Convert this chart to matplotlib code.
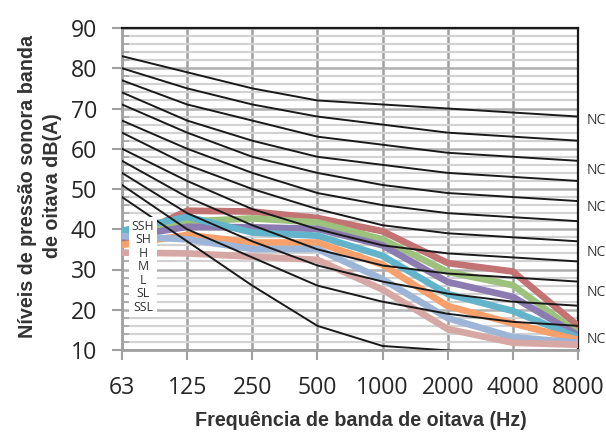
import numpy as np
import matplotlib
matplotlib.use("Agg")
import matplotlib.pyplot as plt
from matplotlib.ticker import MultipleLocator

# ---------------- data ----------------
freqs = ["63", "125", "250", "500", "1000", "2000", "4000", "8000"]

series_names = ["SSH", "SH", "H", "M", "L", "SL", "SSL"]
ssh = [37.0, 44.6, 44.4, 42.8, 39.5, 31.6, 29.5, 16.0]
sh = [38.5, 41.9, 42.7, 41.7, 37.5, 29.4, 26.1, 14.2]
h = [38.0, 40.6, 40.5, 40.1, 36.0, 26.9, 23.2, 13.7]
m = [39.6, 43.1, 39.2, 38.4, 33.4, 23.9, 19.7, 13.1]
l_ = [36.1, 38.6, 36.7, 36.7, 31.2, 20.9, 16.6, 12.5]
sl = [38.3, 37.5, 35.1, 35.1, 27.6, 17.9, 13.2, 11.8]
ssl = [34.2, 34.0, 33.2, 32.4, 25.0, 15.2, 11.8, 11.3]
series_values = [ssh, sh, h, m, l_, sl, ssl]
series_colors = ["#C47374", "#9DC27E", "#8C7BB0", "#62B4CB", "#F7A06C", "#9DB5D6", "#D7A7A6"]

nc_curves = [
    [83, 79, 75, 72, 71, 70, 69, 68],
    [80, 75, 71, 68, 66, 64, 63, 62],
    [77, 71, 67, 63, 61, 59, 58, 57],
    [74, 67, 62, 58, 56, 54, 53, 52],
    [71, 64, 58, 54, 51, 49, 48, 47],
    [67, 60, 54, 49, 46, 44, 43, 42],
    [64, 56, 50, 45, 41, 39, 38, 37],
    [60, 52, 45, 40, 36, 34, 33, 32],
    [57, 48, 41, 35, 31, 29, 28, 27],
    [54, 44, 37, 31, 27, 24, 22, 21],
    [51, 40, 33, 26, 22, 19, 17, 16],
    [48, 37, 26, 16, 11, 9.9, 8, 6],
]
nc_label_text = "NC"
nc_label_y = [67, 54.6, 45.3, 34.1, 24.4, 12.5]

y_min, y_max = 10, 90
x_label = "Frequência de banda de oitava (Hz)"
y_label = "Níveis de pressão sonora banda\nde oitava dB(A)"

# ---------------- figure ----------------
W, H = 606, 432
fig = plt.figure(figsize=(W / 100, H / 100), dpi=100)
ax_l, ax_r, ax_t, ax_b = 122, 578, 28, 350
ax = fig.add_axes([ax_l / W, (H - ax_b) / H, (ax_r - ax_l) / W, (ax_b - ax_t) / H])

x = np.arange(len(freqs))

for vals, col in zip(series_values, series_colors):
    ax.plot(x, vals, color=col, lw=4.8, solid_joinstyle="round", zorder=3)

for curve in nc_curves:
    ax.plot(x, curve, color="#1A1A1A", lw=1.4, zorder=4)

ax.set_xlim(0, len(freqs) - 1)
ax.set_ylim(y_min, y_max)
ax.set_xticks(x)
ax.set_xticklabels(freqs)
ax.yaxis.set_major_locator(MultipleLocator(10))
ax.yaxis.set_minor_locator(MultipleLocator(2))

for t in ax.get_xticklabels() + ax.get_yticklabels():
    t.set_fontfamily(["Open Sans", "DejaVu Sans"])
    t.set_fontsize(16.6)
    t.set_color("#262626")

ax.tick_params(axis="x", which="major", direction="out", length=7, width=1.5,
               color="#A0A0A0", pad=12)
ax.tick_params(axis="y", which="major", direction="out", length=7, width=1.5,
               color="#A0A0A0", pad=11)
ax.tick_params(axis="y", which="minor", direction="in", length=5, width=1.2,
               color="#A8A8A8")

ax.grid(True, which="minor", axis="y", color="#D2D2D2", lw=1.6, zorder=0)
ax.grid(True, which="major", axis="y", color="#B0B0B0", lw=1.8, zorder=0)
ax.grid(True, which="major", axis="x", color="#A0A0A0", lw=1.8, zorder=0)
ax.set_axisbelow(True)

for side in ("left", "bottom"):
    ax.spines[side].set_color("#A0A0A0")
    ax.spines[side].set_linewidth(2)
for side in ("top", "right"):
    ax.spines[side].set_color("#1A1A1A")
    ax.spines[side].set_linewidth(1.6)

# legend box (text only)
ax.text(0.046, 0.258, "\n".join(series_names), transform=ax.transAxes,
        ha="center", va="center", multialignment="center",
        family=["Open Sans", "DejaVu Sans"], size=8.8, color="#333333",
        linespacing=1.05, zorder=6,
        bbox=dict(facecolor="white", edgecolor="none", pad=2))

# NC labels
for yv in nc_label_y:
    ax.annotate(nc_label_text, xy=(len(freqs) - 1, yv), xytext=(6.5, 0),
                textcoords="offset points", ha="left", va="center",
                family=["Open Sans", "DejaVu Sans"], size=10, color="#333333",
                annotation_clip=False)

fig.text(361 / W, 1 - 421 / H, x_label, ha="center", va="center",
         family=["Liberation Sans", "DejaVu Sans"], weight="bold", size=14.2,
         color="#333333")
fig.text(40 / W, 1 - 186 / H, y_label, ha="center", va="center", rotation=90,
         multialignment="center", linespacing=1.4,
         family=["Liberation Sans", "DejaVu Sans"], weight="bold", size=14.2,
         color="#333333")

fig.savefig("out.png", dpi=100)
